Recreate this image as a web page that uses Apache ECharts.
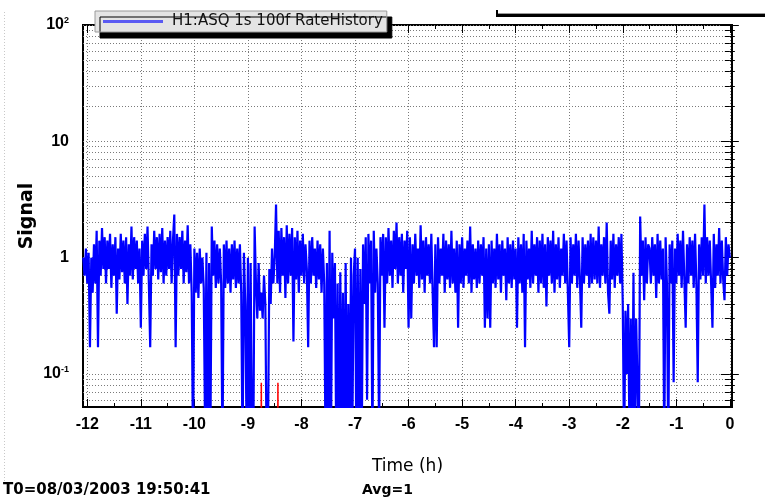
<!DOCTYPE html>
<html><head><meta charset="utf-8">
<script src="https://cdn.jsdelivr.net/npm/echarts@6/dist/echarts.min.js"></script>
<style>html,body{margin:0;padding:0;background:#fff}#c{width:765px;height:503px}</style>
</head><body><div id="c"></div>
<script>
// sample times: tStart + i*tStep (hours)
const tStart = -12.075;
const tStep = 0.025;
const signal = [
1.0,0.7,1.2,
0.6,1.1,0.17,1.0,0.5,1.3,0.6,1.7,0.17,1.4,0.7,1.8,0.8,1.5,0.6,1.4,0.8,1.6,0.55,1.3,
0.7,1.5,0.33,1.2,0.65,1.6,0.75,1.4,0.6,1.5,0.4,1.3,0.7,1.85,0.65,1.5,0.8,1.4,0.6,1.2,
0.25,1.4,0.7,1.6,0.8,1.85,0.6,0.17,1.3,0.7,1.7,0.8,1.5,0.65,1.6,0.75,1.8,0.6,1.4,0.7,
1.5,0.8,1.7,0.6,1.4,2.35,0.17,1.6,0.7,1.5,0.8,1.7,0.6,1.4,0.75,1.9,0.6,1.3,0.5,0.02,
1.2,0.5,1.1,0.45,1.2,0.6,1.0,0.55,0.03,1.1,0.02,0.9,0.03,1.85,0.7,1.4,0.55,1.3,0.6,1.2,
0.6,0.02,1.3,0.55,1.4,0.6,1.2,0.5,1.3,0.65,1.4,0.55,1.2,0.6,1.3,0.5,0.02,1.1,0.4,0.03,
1.0,0.02,0.9,0.03,0.02,1.85,0.6,0.3,0.9,0.35,0.5,0.3,0.7,0.4,0.02,0.03,0.8,0.4,1.2,0.6,
1.0,2.86,0.6,1.7,0.5,1.8,0.7,1.5,0.45,1.9,0.6,1.6,0.7,1.8,0.19,1.5,0.65,1.7,0.5,1.4,
0.7,1.6,0.6,1.3,0.8,0.17,1.4,0.6,1.5,0.7,1.2,0.55,1.4,0.65,1.3,0.5,1.2,0.6,0.02,0.9,
0.03,1.7,0.02,1.1,0.3,0.9,0.02,0.6,0.02,0.75,0.03,0.5,0.02,0.9,0.02,0.4,0.02,1.0,0.03,0.7,
1.2,0.02,1.0,0.03,0.8,0.02,1.3,0.4,1.5,0.06,1.6,0.6,1.4,0.02,1.7,0.5,1.2,0.6,0.03,1.5,
0.7,1.6,0.25,1.5,0.6,1.8,0.7,1.4,0.55,1.7,0.8,2.0,0.6,1.5,0.7,1.6,0.5,1.4,0.8,1.7,
0.25,1.5,0.3,1.3,0.6,1.6,0.7,1.2,0.55,1.9,0.65,1.4,0.5,1.5,0.7,1.3,0.6,1.6,0.5,0.17,
1.3,0.17,1.5,0.6,1.2,0.7,1.6,0.5,1.4,0.65,1.3,0.55,1.7,0.6,1.2,0.5,1.4,0.25,1.3,0.6,
1.5,0.55,1.2,0.7,1.4,0.6,1.85,0.5,1.3,0.65,1.2,0.55,1.4,0.6,1.3,0.7,1.5,0.25,1.2,0.3,
1.3,0.25,1.4,0.6,1.2,0.55,1.6,0.65,1.3,0.5,1.4,0.7,1.2,0.43,1.5,0.6,1.3,0.55,1.4,0.65,
1.2,0.25,1.5,0.6,1.3,0.5,1.6,0.17,1.4,0.65,1.2,0.55,1.7,0.6,1.3,0.7,1.5,0.5,1.4,0.6,
1.6,0.55,1.3,0.38,1.5,0.7,1.4,0.6,1.7,0.5,1.3,0.65,1.5,0.55,1.2,0.7,1.6,0.6,1.4,0.5,
0.17,1.5,0.6,1.3,0.7,1.6,0.55,1.4,0.65,0.25,1.5,0.6,1.3,0.7,1.4,0.55,1.6,0.6,1.5,0.65,
1.4,0.6,1.85,0.55,1.3,0.7,1.5,0.6,2.0,0.5,0.33,1.4,0.65,1.6,0.55,1.3,0.7,1.5,0.6,1.6,
0.4,0.02,0.35,0.1,0.4,0.03,0.3,0.02,0.74,0.02,0.3,0.08,0.02,2.26,0.7,1.4,0.43,1.5,0.6,1.3,
1.2,0.6,1.5,0.7,1.3,0.45,1.6,0.6,1.4,0.65,1.2,0.02,1.5,0.6,0.02,1.3,0.6,1.4,0.085,1.2,
0.6,1.6,0.7,1.4,0.55,1.7,0.65,0.25,1.3,0.6,1.5,0.7,1.4,0.55,1.6,0.6,0.085,1.3,0.65,1.5,
0.7,2.86,0.6,1.5,0.7,1.4,0.6,0.25,1.6,0.55,1.3,0.7,1.8,0.6,1.4,0.65,0.43,1.5,0.7,1.3,
1.0
];
const redTimes = [-8.755,-8.75,-8.745,-8.445,-8.44,-8.435];
const redValues = [0.02,0.084,0.02,0.02,0.084,0.02];
const xTicks = [-12,-11,-10,-9,-8,-7,-6,-5,-4,-3,-2,-1,0];
const xMinorTicks = [-11.5,-10.5,-9.5,-8.5,-7.5,-6.5,-5.5,-4.5,-3.5,-2.5,-1.5,-0.5];
const yMajor = [0.1,1,10,100];
const yMinor = [0.06,0.07,0.08,0.09,0.2,0.3,0.4,0.5,0.6,0.7,0.8,0.9,2,3,4,5,6,7,8,9,20,30,40,50,60,70,80,90];
const seriesName = 'H1:ASQ 1s 100f RateHistory';
const footLeft = 'T0=08/03/2003 19:50:41';
const footRight = 'Avg=1';

const X_MIN = -12.08, X_MAX = 0.04, Y_MIN = 0.052, Y_MAX = 100;
const blueData = signal.map((v, i) => [+(tStart + i * tStep).toFixed(3), v]);
const redData = redTimes.map((t, i) => [t, redValues[i]]);

const black = '#000';
const gridDot = {show: true, lineStyle: {color: '#7a7a7a', width: 1, type: [1, 2]}};
function xAx(pos, ticks, len, opts) {
  return Object.assign({
    type: 'value', position: pos, min: X_MIN, max: X_MAX,
    axisLine: {show: false},
    axisTick: {show: true, inside: true, length: len, customValues: ticks, lineStyle: {color: black, width: 1}},
    axisLabel: {show: false},
    splitLine: {show: false}
  }, opts || {});
}
function yAx(pos, ticks, len, opts) {
  return Object.assign({
    type: 'log', logBase: 10, position: pos, min: Y_MIN, max: Y_MAX,
    axisLine: {show: false},
    axisTick: {show: true, inside: true, length: len, customValues: ticks, lineStyle: {color: black, width: 1}},
    axisLabel: {show: false},
    splitLine: {show: false}
  }, opts || {});
}
const tickFont = {fontFamily: 'Liberation Sans', fontWeight: 'bold', fontSize: 16, color: black};

const chart = echarts.init(document.getElementById('c'), null, {renderer: 'canvas'});
chart.setOption({
  animation: false,
  backgroundColor: '#fff',
  grid: {left: 83, right: 33, top: 25, bottom: 96, show: true, borderColor: black, borderWidth: 2, backgroundColor: 'transparent'},
  legend: {
    show: true, left: 95, top: 11, orient: 'horizontal',
    padding: [3, 4, 3, 8], itemWidth: 60, itemHeight: 3, itemGap: 5,
    backgroundColor: '#e4e4e4', borderColor: '#9a9a9a', borderWidth: 1,
    shadowColor: '#000', shadowBlur: 0, shadowOffsetX: 5, shadowOffsetY: 6,
    data: [{name: seriesName, icon: 'rect', itemStyle: {color: '#5a5af2'}}],
    textStyle: {fontFamily: 'DejaVu Sans', fontSize: 15, color: '#111', padding: [0, 0, 0, 4]}
  },
  xAxis: [
    xAx('bottom', xTicks, 8, {
      axisLabel: Object.assign({show: true, customValues: xTicks, margin: 10, formatter: v => String(Math.round(v))}, tickFont),
      splitLine: gridDot,
      name: 'Time (h)', nameLocation: 'middle', nameGap: 51, nameMoveOverlap: false,
      nameTextStyle: {fontFamily: 'DejaVu Sans', fontSize: 17, color: black}
    }),
    xAx('bottom', xMinorTicks, 4),
    xAx('top', xTicks, 8),
    xAx('top', xMinorTicks, 4)
  ],
  yAxis: [
    yAx('left', yMajor, 9, {
      axisLabel: Object.assign({show: true, customValues: yMajor, margin: 14,
        formatter: v => {
          const e = Math.round(Math.log10(v));
          if (e === 0) return '1';
          if (e === 1) return '10';
          return '10{s|' + e + '}';
        },
        rich: {s: {fontFamily: 'Liberation Sans', fontWeight: 'bold', fontSize: 9, color: black, padding: [0, 0, 9, 0]}}
      }, tickFont),
      splitLine: gridDot,
      name: 'Signal', nameLocation: 'middle', nameGap: 46, nameRotate: 90, nameMoveOverlap: false,
      nameTextStyle: {fontFamily: 'DejaVu Sans', fontWeight: 'bold', fontSize: 19, color: black}
    }),
    yAx('left', yMinor, 5, {splitLine: gridDot}),
    yAx('right', yMajor, 9),
    yAx('right', yMinor, 5)
  ],
  series: [
    {name: seriesName, type: 'line', xAxisIndex: 0, yAxisIndex: 0, data: blueData,
     showSymbol: false, symbol: 'none', sampling: false, clip: true,
     lineStyle: {color: '#0000ff', width: 2.2}, itemStyle: {color: '#0000ff'}, z: 3},
    {name: 'red', type: 'line', xAxisIndex: 0, yAxisIndex: 0, data: redData,
     showSymbol: false, symbol: 'none', clip: true,
     lineStyle: {color: '#ff0000', width: 1.5}, itemStyle: {color: '#ff0000'}, z: 4}
  ],
  graphic: [
    {type: 'line', shape: {x1: 4.5, y1: 12, x2: 4.5, y2: 482}, style: {stroke: '#c8c8c8', lineWidth: 1, lineDash: [1, 2]}, silent: true},
    {type: 'rect', shape: {x: 497, y: 13, width: 268, height: 1}, style: {fill: '#9a9a9a'}, silent: true},
    {type: 'rect', shape: {x: 497, y: 14, width: 268, height: 3}, style: {fill: '#000'}, silent: true},
    {type: 'rect', shape: {x: 496, y: 10, width: 2, height: 7}, style: {fill: '#000'}, silent: true},
    {type: 'text', left: 3, top: 483, style: {text: footLeft, font: 'bold 15px "DejaVu Sans"', fill: black}, silent: true},
    {type: 'text', left: 362, top: 483, style: {text: footRight, font: 'bold 14px "DejaVu Sans"', fill: black}, silent: true}
  ]
});
</script>
</body></html>
